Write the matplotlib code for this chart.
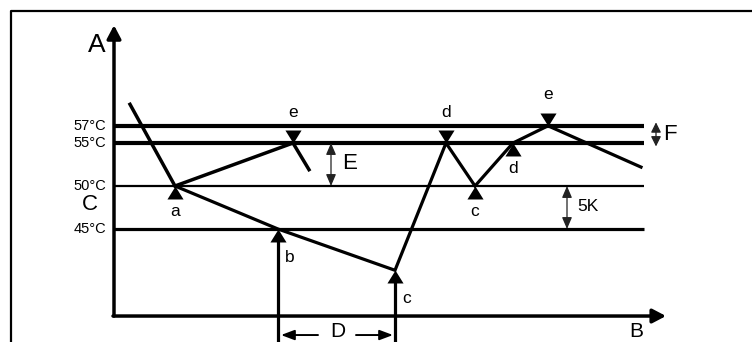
import matplotlib.pyplot as plt
from matplotlib.path import Path

plt.rcParams["font.family"] = ["Liberation Sans", "DejaVu Sans"]

# schematic values: time in arbitrary units, temperature in degC
thresholds = [57, 55, 50, 45]
threshold_labels = ["57°C", "55°C", "50°C", "45°C"]
threshold_widths = [3.0, 3.0, 1.6, 2.3]

heat_t = [16, 61, 179, 195]
heat_T = [59.5, 50, 55, 51.9]

cycle_t = [61, 164, 281, 332, 361, 399, 434, 527]
cycle_T = [50, 45, 40.2, 55, 50, 55, 57, 52.2]

# switching points (up = triangle below point, down = triangle above point)
up_pts = [(61, 50, "a"), (361, 50, "c"), (399, 55, "d")]
down_pts = [(179, 55, "e"), (332, 55, "d"), (434, 57, "e")]
vert_pts = [(164, 45, "b"), (281, 40.2, "c")]

t_min, t_max = -114, 638
T_lo, T_hi = 31.86, 71.63
T_origin = 34.88

up_tri = Path([(0, 0), (-0.62, -1), (0.62, -1), (0, 0)], closed=True)
down_tri = Path([(0, 0), (-0.62, 1), (0.62, 1), (0, 0)], closed=True)

fig = plt.figure(figsize=(7.52, 3.42), dpi=100)
ax = fig.add_axes([0, 0, 1, 1])
ax.set_xlim(t_min, t_max)
ax.set_ylim(T_lo, T_hi)
ax.axis("off")

# outer frame (only top and left visible)
ax.plot([0.0146, 0.0146, 1.0], [0.0, 0.968, 0.968], transform=ax.transAxes,
        color="k", lw=1.6, solid_capstyle="butt")

arrow_kw = dict(arrowstyle="-|>,head_length=0.8,head_width=0.42", lw=2.5,
                color="k", shrinkA=0, shrinkB=0, mutation_scale=10)
ax.annotate("", xy=(0, 68.7), xytext=(0, T_origin), arrowprops=arrow_kw)
ax.annotate("", xy=(552, T_origin), xytext=(-1, T_origin), arrowprops=arrow_kw)

for T, lab, w in zip(thresholds, threshold_labels, threshold_widths):
    ax.plot([0, 530], [T, T], color="k", lw=w, solid_capstyle="butt")
    ax.text(-8, T, lab, ha="right", va="center", fontsize=10.5)

ax.plot(heat_t, heat_T, color="k", lw=2.5, solid_joinstyle="miter")
ax.plot(cycle_t, cycle_T, color="k", lw=2.3, solid_joinstyle="miter")

for t, T, lab in up_pts:
    ax.plot(t, T, marker=up_tri, ms=18.7, color="k", mew=0)
    ax.text(t, T - 3.0, lab, ha="center", va="center", fontsize=12.5)
for t, T, lab in down_pts:
    ax.plot(t, T, marker=down_tri, ms=18.7, color="k", mew=0)
    ax.text(t, T + 3.6, lab, ha="center", va="center", fontsize=12.5)
for t, T, lab in vert_pts:
    ax.plot([t, t], [T_lo, T - 1.0], color="k", lw=2.3, solid_capstyle="butt")
    ax.plot(t, T, marker=up_tri, ms=18.7, color="k", mew=0)
    ax.text(t + 12, T - 3.3, lab, ha="center", va="center", fontsize=12.5)

# dimension arrows
dim_kw = dict(arrowstyle="<|-|>,head_length=0.7,head_width=0.3", lw=0.9,
              color="#222222", shrinkA=0, shrinkB=0, mutation_scale=10)
ax.annotate("", xy=(217, 55), xytext=(217, 50), arrowprops=dim_kw)
ax.text(228, 52.6, "E", ha="left", va="center", fontsize=16)
ax.annotate("", xy=(453, 50), xytext=(453, 45), arrowprops=dim_kw)
ax.text(463, 47.6, "5K", ha="left", va="center", fontsize=12.5)
ax.annotate("", xy=(542, 57.4), xytext=(542, 54.6),
            arrowprops=dict(dim_kw, arrowstyle="<|-|>,head_length=0.6,head_width=0.3"))
ax.text(549, 56.0, "F", ha="left", va="center", fontsize=16)

ax.text(-24, 47.9, "C", ha="center", va="center", fontsize=16)
ax.text(-17, 66.4, "A", ha="center", va="center", fontsize=19)
ax.text(522, 32.0, "B", ha="center", va="bottom", fontsize=15)

d_kw = dict(arrowstyle="-|>,head_length=0.8,head_width=0.3", lw=1.4,
            color="k", shrinkA=0, shrinkB=0, mutation_scale=10)
ax.annotate("", xy=(167, 32.67), xytext=(204, 32.67), arrowprops=d_kw)
ax.annotate("", xy=(279, 32.67), xytext=(242, 32.67), arrowprops=d_kw)
ax.text(224, 31.95, "D", ha="center", va="bottom", fontsize=15)

fig.savefig("out.png", dpi=100)
